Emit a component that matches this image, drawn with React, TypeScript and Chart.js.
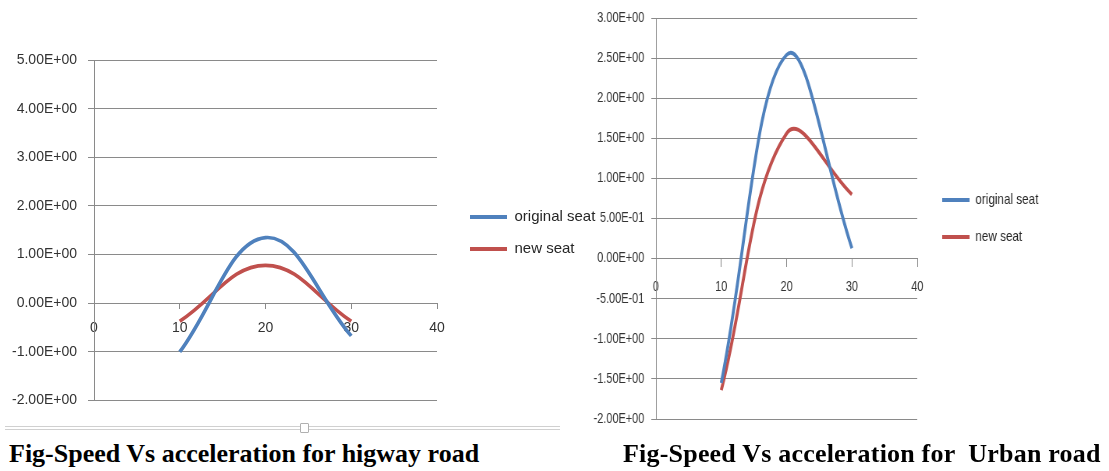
import React, { useEffect, useRef } from 'react';
import { Chart, registerables } from 'chart.js';

Chart.register(...registerables);

// ---------- data ----------
const speedValues = [10, 20, 30];
const seriesNames = ['original seat', 'new seat'];
const highwayOriginal = [-1.0, 1.35, -0.67];
const highwayNew = [-0.37, 0.78, -0.37];
const urbanOriginal = [-1.55, 2.54, 0.13];
const urbanNew = [-1.64, 1.56, 0.8];
const xTickValues = [0, 10, 20, 30, 40];
const highwayYTicks = [-2, -1, 0, 1, 2, 3, 4, 5];
const urbanYTicks = [-2, -1.5, -1, -0.5, 0, 0.5, 1, 1.5, 2, 2.5, 3];
const captionHighway = 'Fig-Speed Vs acceleration for higway road';
const captionUrban = 'Fig-Speed Vs acceleration for  Urban road';

const BLUE = '#4F81BD';
const RED = '#C0504D';
const GRID = '#8a8a8a';
const TEXT = '#333333';
const FONT = '"Liberation Sans", Arial, sans-serif';

function sci(v: number): string {
  const s = v.toExponential(2).toUpperCase();
  return s.replace(/E([+-])(\d)$/, 'E$10$2');
}

interface Opts {
  original: number[];
  newer: number[];
  yTicks: number[];
  lineWidth: number;
  tickFont: number;
  legendFont: number;
  legendPad: number;
  legendLine: number;
  gapW: number;
  yAxisW: number;
  yTickLen: number;
  yTickPad: number;
  xTickLen: number;
  xTickPad: number;
  canvasW: number;
  canvasH: number;
  chartTop: number;
  chartBottom: number;
  chartRight: number;
}

function toPoints(vals: number[]) {
  return speedValues.map((x, i) => ({ x, y: vals[i] }));
}

function legendWidthFor(o: Opts): number {
  const c = document.createElement('canvas').getContext('2d');
  let tw = 0;
  if (c) {
    c.font = `normal ${o.legendFont}px ${FONT}`;
    for (const n of seriesNames) tw = Math.max(tw, c.measureText(n).width);
  }
  return o.legendPad + o.legendLine + o.legendFont / 2 + tw + 10;
}

function makeConfig(o: Opts): any {
  const legendW = legendWidthFor(o);
  const padRight = Math.max(0, o.canvasW - o.chartRight - o.gapW - legendW);
  const ds = (label: string, vals: number[], color: string) => ({
    label,
    data: toPoints(vals),
    borderColor: color,
    backgroundColor: color,
    borderWidth: o.lineWidth,
    pointRadius: 0,
    pointHoverRadius: 0,
    pointBorderColor: color,
    pointBackgroundColor: color,
    pointBorderWidth: o.lineWidth + 0.3,
    tension: 0.4,
    fill: false,
  });
  return {
    type: 'line',
    data: {
      datasets: [
        ds(seriesNames[0], o.original, BLUE),
        ds(seriesNames[1], o.newer, RED),
      ],
    },
    options: {
      animation: false,
      responsive: true,
      maintainAspectRatio: false,
      layout: {
        padding: {
          top: o.chartTop,
          bottom: o.canvasH - o.chartBottom,
          left: 0,
          right: padRight,
        },
      },
      events: [],
      plugins: {
        tooltip: { enabled: false },
        title: { display: false },
        legend: {
          display: true,
          position: 'right',
          align: 'center',
          maxWidth: legendW + 0.5,
          labels: {
            usePointStyle: true,
            pointStyle: 'line',
            pointStyleWidth: o.legendLine,
            padding: o.legendPad,
            color: '#262626',
            font: { family: FONT, size: o.legendFont },
          },
        },
      },
      scales: {
        x: {
          type: 'linear',
          min: xTickValues[0],
          max: xTickValues[xTickValues.length - 1],
          position: { y: 0 },
          afterBuildTicks: (s: any) => {
            s.ticks = xTickValues.map((v) => ({ value: v }));
          },
          ticks: {
            color: TEXT,
            padding: o.xTickPad,
            maxRotation: 0,
            font: { family: FONT, size: o.tickFont },
          },
          grid: {
            display: true,
            drawOnChartArea: false,
            drawTicks: true,
            tickLength: o.xTickLen,
            color: GRID,
          },
          border: { display: true, color: GRID, width: 1 },
        },
        y: {
          type: 'linear',
          position: 'left',
          min: o.yTicks[0],
          max: o.yTicks[o.yTicks.length - 1],
          afterBuildTicks: (s: any) => {
            s.ticks = o.yTicks.map((v) => ({ value: v }));
          },
          afterFit: (s: any) => {
            s.width = o.yAxisW;
          },
          ticks: {
            color: TEXT,
            padding: o.yTickPad,
            callback: (v: any) => sci(Number(v)),
            font: { family: FONT, size: o.tickFont },
          },
          grid: {
            display: true,
            drawTicks: true,
            tickLength: o.yTickLen,
            color: GRID,
            lineWidth: 1,
          },
          border: { display: true, color: GRID, width: 1 },
        },
        gap: {
          type: 'linear',
          position: 'right',
          display: true,
          grid: { display: false },
          ticks: { display: false },
          border: { display: false },
          afterFit: (s: any) => {
            s.width = o.gapW;
          },
        },
      },
    },
  };
}

function ChartBox(props: { left: number; top: number; scaleX: number; opts: Opts }) {
  const ref = useRef<HTMLCanvasElement | null>(null);
  useEffect(() => {
    if (!ref.current) return;
    const chart = new Chart(ref.current, makeConfig(props.opts));
    return () => chart.destroy();
  }, []);
  return (
    <div
      style={{
        position: 'absolute',
        left: props.left,
        top: props.top,
        width: props.opts.canvasW,
        height: props.opts.canvasH,
        transform: `scaleX(${props.scaleX})`,
        transformOrigin: '0 0',
      }}
    >
      <canvas ref={ref} />
    </div>
  );
}

const highwayOpts: Opts = {
  original: highwayOriginal,
  newer: highwayNew,
  yTicks: highwayYTicks,
  lineWidth: 3.6,
  tickFont: 14,
  legendFont: 15,
  legendPad: 17,
  legendLine: 37,
  gapW: 16,
  yAxisW: 94,
  yTickLen: 6,
  yTickPad: 11,
  xTickLen: 5,
  xTickPad: 11,
  canvasW: 640,
  canvasH: 420,
  chartTop: 60,
  chartBottom: 406,
  chartRight: 437,
};

// the urban figure is horizontally compressed (scaleX 0.78), values below are pre-scale
const URBAN_SX = 0.78;
const urbanOpts: Opts = {
  original: urbanOriginal,
  newer: urbanNew,
  yTicks: urbanYTicks,
  lineWidth: 3.8,
  tickFont: 14,
  legendFont: 15,
  legendPad: 22,
  legendLine: 35,
  gapW: 10,
  yAxisW: 123,
  yTickLen: 6,
  yTickPad: 9,
  xTickLen: 8,
  xTickPad: 12,
  canvasW: 703,
  canvasH: 440,
  chartTop: 18,
  chartBottom: 419,
  chartRight: 458,
};

const captionStyle: React.CSSProperties = {
  position: 'absolute',
  top: 441,
  fontFamily: '"Liberation Serif", "Times New Roman", serif',
  fontWeight: 'bold',
  fontSize: 26,
  lineHeight: '26px',
  color: '#000',
  whiteSpace: 'pre',
};

export default function App() {
  return (
    <div
      style={{
        position: 'absolute',
        left: 0,
        top: 0,
        width: 1109,
        height: 471,
        background: '#fff',
        overflow: 'hidden',
      }}
    >
      <ChartBox left={0} top={0} scaleX={1} opts={highwayOpts} />
      <ChartBox left={560} top={0} scaleX={URBAN_SX} opts={urbanOpts} />
      {/* scroll-bar like strip under the left figure */}
      <div style={{ position: 'absolute', left: 5, top: 426, width: 555, height: 1, background: '#d0d0d0' }} />
      <div style={{ position: 'absolute', left: 5, top: 429, width: 555, height: 1, background: '#d0d0d0' }} />
      <div
        style={{
          position: 'absolute',
          left: 300,
          top: 423,
          width: 7,
          height: 8,
          background: '#fff',
          border: '1px solid #b0b0b0',
          borderRadius: 1,
        }}
      />
      <div style={{ ...captionStyle, left: 9 }}>{captionHighway}</div>
      <div style={{ ...captionStyle, left: 623, letterSpacing: 0.2 }}>{captionUrban}</div>
    </div>
  );
}
